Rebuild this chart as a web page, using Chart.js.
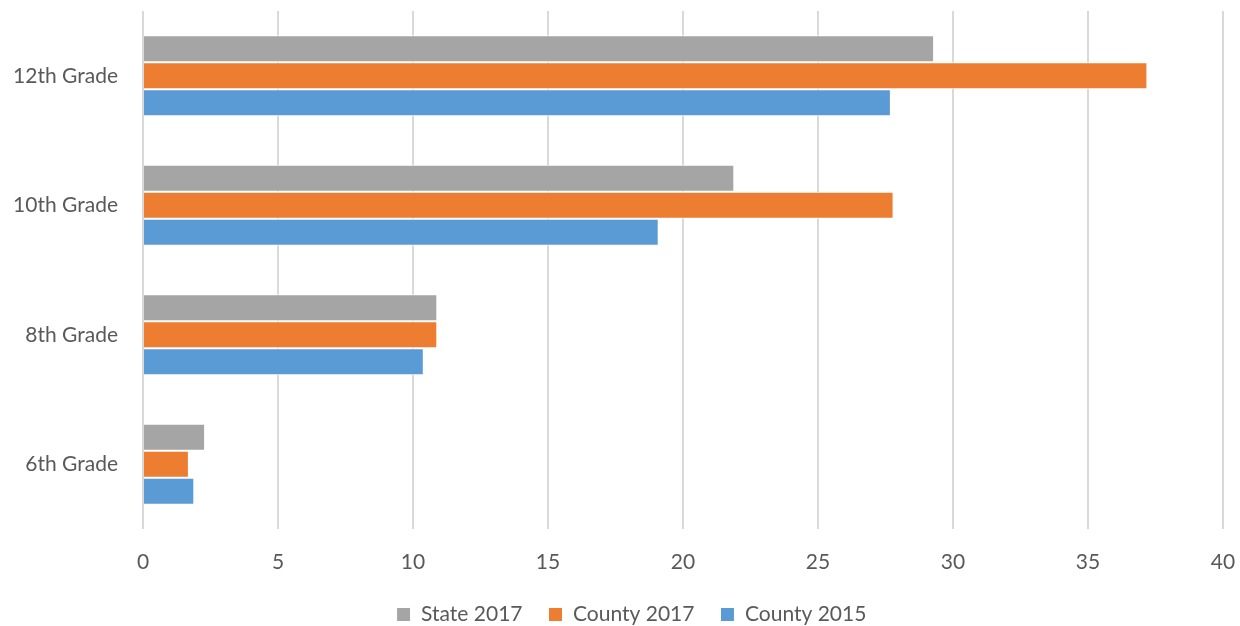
<!DOCTYPE html>
<html>
<head>
<meta charset="utf-8">
<script src="https://cdn.jsdelivr.net/npm/chart.js@4"></script>
<style>
  html, body { margin: 0; padding: 0; background: #fff; }
  #chart { display: block; }
</style>
</head>
<body>
<canvas id="chart" width="1240" height="626"></canvas>
<script>
const grades = ["12th Grade", "10th Grade", "8th Grade", "6th Grade"];
const state2017 = [29.3, 21.9, 10.9, 2.3];
const county2017 = [37.2, 27.8, 10.9, 1.7];
const county2015 = [27.7, 19.1, 10.4, 1.9];

const textColor = "#595959";
const fontFamily = "Lato, 'Open Sans', sans-serif";

const ctx = document.getElementById("chart");

const gradeChart = new Chart(ctx, {
  type: "bar",
  data: {
    labels: grades,
    datasets: [
      {
        label: "State 2017",
        data: state2017,
        backgroundColor: "#a5a5a5",
        borderColor: "#ffffff",
        borderWidth: 1
      },
      {
        label: "County 2017",
        data: county2017,
        backgroundColor: "#ed7d31",
        borderColor: "#ffffff",
        borderWidth: 1
      },
      {
        label: "County 2015",
        data: county2015,
        backgroundColor: "#5b9bd5",
        borderColor: "#ffffff",
        borderWidth: 1
      }
    ]
  },
  options: {
    indexAxis: "y",
    responsive: false,
    animation: false,
    barPercentage: 1,
    categoryPercentage: 0.625,
    layout: {
      padding: { left: 0, right: 17, top: 11, bottom: 0 }
    },
    plugins: {
      tooltip: { enabled: false },
      legend: {
        display: true,
        position: "bottom",
        labels: {
          color: textColor,
          boxWidth: 14,
          boxHeight: 14,
          padding: 26,
          font: { family: fontFamily, size: 21 }
        }
      }
    },
    scales: {
      x: {
        min: 0,
        max: 40,
        ticks: {
          stepSize: 5,
          color: textColor,
          padding: 21,
          font: { family: fontFamily, size: 21 }
        },
        grid: {
          color: "#d9d9d9",
          lineWidth: 2,
          drawTicks: false
        },
        border: { display: false },
        afterFit: scale => {
          scale.height = 49;
          scale.paddingLeft = 0;
          scale.paddingRight = 0;
        }
      },
      y: {
        ticks: {
          color: textColor,
          padding: 17,
          font: { family: fontFamily, size: 21 }
        },
        grid: { display: false },
        border: { display: false },
        afterFit: scale => {
          scale.width = 143;
          scale.paddingTop = 0;
          scale.paddingBottom = 0;
        }
      }
    }
  }
});

// legend padding is large for item spacing, keep its box short
// and nudge it right, centred on the plot area like the original
const legend = gradeChart.legend;
const legendFit = legend.fit;
legend.fit = function () {
  legendFit.call(this);
  this.height = 48;
};
const legendDraw = legend.draw;
legend.draw = function () {
  const c = this.ctx;
  c.save();
  c.translate(20, 0);
  legendDraw.call(this);
  c.restore();
};
gradeChart.update();
</script>
</body>
</html>
